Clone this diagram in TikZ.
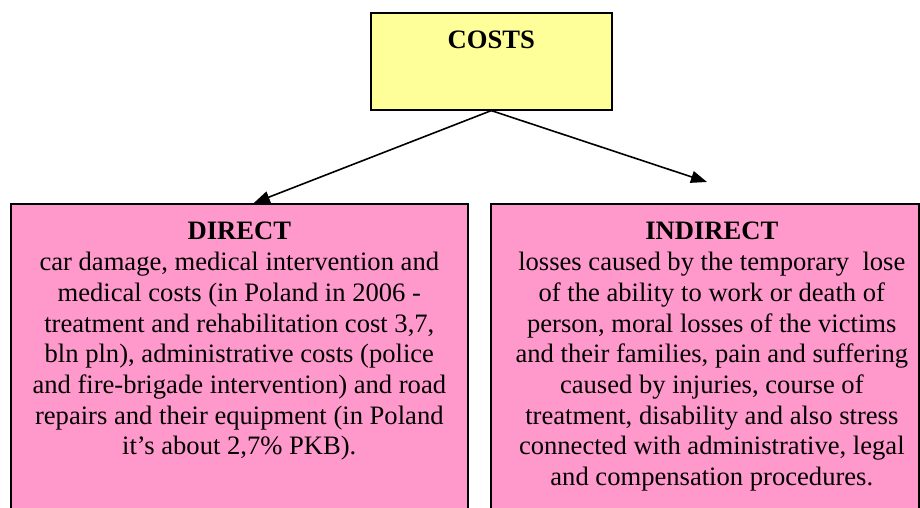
\documentclass[tikz,border=0pt]{standalone}
\usepackage{fontspec}
\setmainfont{Liberation Serif}
\usetikzlibrary{arrows.meta,calc}
\definecolor{costfill}{RGB}{255,255,153}
\definecolor{partfill}{RGB}{255,153,204}
% Textblock oben im Kasten
\newcommand{\boxtext}[3]{\parbox[c][#1][t]{#2}{\centering\vspace*{18.5pt}#3}}

\begin{document}
\begin{tikzpicture}[x=1pt, y=-1pt, >={Triangle[length=16pt,width=12pt]},
    kasten/.style={draw=black, line width=1.6pt, inner sep=0pt, anchor=north west},
    font=\fontsize{26.6}{30.7}\selectfont]
    \clip (0,0) rectangle (920,508);
    \node[kasten, fill=costfill] (costs) at (370,12) {\boxtext{97pt}{241pt}{\textbf{COSTS}}};
    % Kästen unten (laufen unten aus dem Bild)
    \node[kasten, fill=partfill] (direct) at (10,203) {\boxtext{340pt}{457pt}{%
        \textbf{DIRECT}\\
        car damage, medical intervention and\\
        medical costs (in Poland in 2006 -\\
        treatment and rehabilitation cost 3,7,\\
        bln pln), administrative costs (police\\
        and fire-brigade intervention) and road\\
        repairs and their equipment (in Poland\\
        it’s about 2,7\% PKB).}};
    \node[kasten, fill=partfill] (indirect) at (490,203) {\boxtext{340pt}{428pt}{%
        \leftskip=14pt plus 1fil
        \textbf{INDIRECT}\\
        losses caused by the temporary\ \ lose\\
        of the ability to work or death of\\
        person, moral losses of the victims\\
        and their families, pain and suffering\\
        caused by injuries, course of\\
        treatment, disability and also stress\\
        connected with administrative, legal\\
        and compensation procedures.}};
    \coordinate (indirectend) at (707,182);
    \draw[->, line width=1.6pt] (costs.south) -- ($(direct.north)+(14.5,0)$);
    \draw[->, line width=1.6pt] (costs.south) -- (indirectend);
\end{tikzpicture}
\end{document}
